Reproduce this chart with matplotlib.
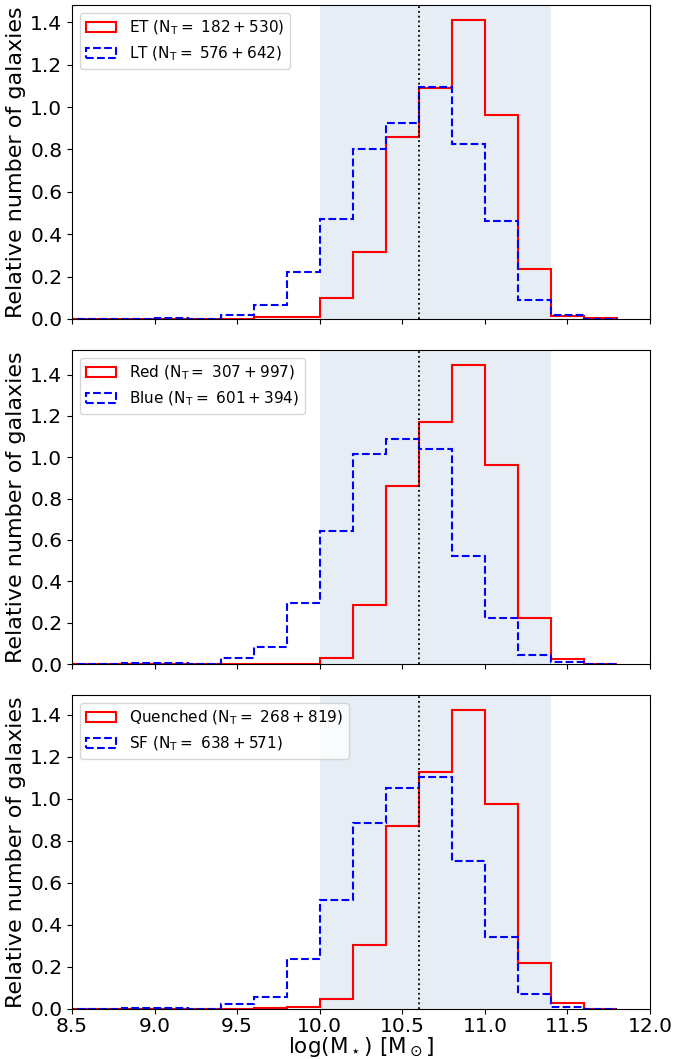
import numpy as np
import matplotlib
matplotlib.use("Agg")
import matplotlib.pyplot as plt

# stellar-mass bins (0.2 dex), first bin sits partly outside the plotted range
edges = np.round(np.arange(8.4, 11.81, 0.2), 2)

# relative number of galaxies per bin, one entry per bin in `edges`
et_vals = [0, 0, 0, 0, 0, 0, 0.008, 0.008, 0.097, 0.314, 0.859, 1.091, 1.411, 0.963, 0.238, 0.016, 0.003]
lt_vals = [0, 0, 0, 0.004, 0, 0.018, 0.066, 0.224, 0.470, 0.804, 0.924, 1.093, 0.828, 0.462, 0.088, 0.017, 0]

red_vals = [0, 0, 0, 0, 0, 0, 0.002, 0.002, 0.027, 0.286, 0.860, 1.172, 1.447, 0.965, 0.221, 0.023, 0.002]
blue_vals = [0, 0, 0.005, 0.005, 0, 0.027, 0.084, 0.296, 0.642, 1.017, 1.091, 1.038, 0.522, 0.223, 0.042, 0.010, 0]

q_vals = [0, 0, 0, 0, 0, 0, 0.005, 0.011, 0.046, 0.307, 0.870, 1.130, 1.424, 0.977, 0.220, 0.029, 0.002]
sf_vals = [0, 0, 0.005, 0.005, 0, 0.024, 0.059, 0.240, 0.520, 0.886, 1.053, 1.104, 0.703, 0.344, 0.073, 0.010, 0]

labels = [
    (r"ET ($\mathrm{N_T=}$ $182+530$)", r"LT ($\mathrm{N_T=}$ $576+642$)"),
    (r"Red ($\mathrm{N_T=}$ $307+997$)", r"Blue ($\mathrm{N_T=}$ $601+394$)"),
    (r"Quenched ($\mathrm{N_T=}$ $268+819$)", r"SF ($\mathrm{N_T=}$ $638+571$)"),
]
panels = [(et_vals, lt_vals), (red_vals, blue_vals), (q_vals, sf_vals)]

centers = 0.5 * (edges[:-1] + edges[1:])

fig = plt.figure(figsize=(6.92, 10.59), dpi=100)
W, H = 692, 1059
tops = [5, 350, 695]
ph = 314
axes = []
for top in tops:
    ax = fig.add_axes([72 / W, 1 - (top + ph) / H, 578 / W, ph / H],
                      sharex=axes[0] if axes else None)
    axes.append(ax)

for ax, (v1, v2), (l1, l2) in zip(axes, panels, labels):
    ax.axvspan(10.0, 11.4, color="#e6edf5", lw=0, zorder=0)
    ax.axvline(10.6, color="k", ls=":", lw=1.3, zorder=3)
    ax.hist(centers, bins=edges, weights=v1, histtype="step", color="red",
            lw=1.5, label=l1, zorder=2)
    ax.hist(centers, bins=edges, weights=v2, histtype="step", color="blue",
            lw=1.5, ls="--", label=l2, zorder=2)
    ax.set_xlim(8.5, 12.0)
    ax.set_ylabel("Relative number of galaxies", fontsize=16, labelpad=3)
    ax.tick_params(labelsize=14.5)
    ax.tick_params(axis="x", pad=2)
    ax.legend(loc="upper left", fontsize=11)
    ax.set_yticks(np.arange(0, 1.41, 0.2))

for ax in axes[:-1]:
    ax.tick_params(labelbottom=False)
axes[-1].set_xticks(np.arange(8.5, 12.01, 0.5))
axes[-1].set_xlabel(r"log(M$_\star$) [M$_\odot$]", fontsize=15.5, labelpad=0)

fig.savefig("out.png", dpi=100)
